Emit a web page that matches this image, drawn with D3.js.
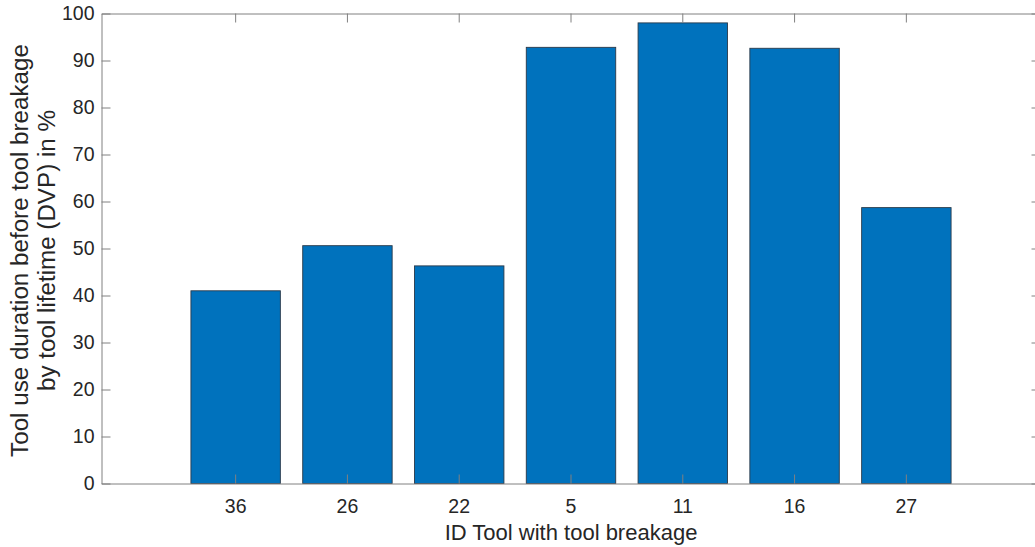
<!DOCTYPE html>
<html>
<head>
<meta charset="utf-8">
<script src="https://cdn.jsdelivr.net/npm/d3@7"></script>
<style>
  html, body { margin: 0; padding: 0; background: #fff; }
  svg { display: block; font-family: "Liberation Sans", Arial, sans-serif; }
</style>
</head>
<body>
<svg id="chart" width="1035" height="547"></svg>
<script>
const categories = ["36", "26", "22", "5", "11", "16", "27"];
const values = [41.0, 50.6, 46.3, 92.8, 98.0, 92.6, 58.7];
const yTicks = [0, 10, 20, 30, 40, 50, 60, 70, 80, 90, 100];
const xLabel = "ID Tool with tool breakage";
const yLabelLines = ["Tool use duration before tool breakage", "by tool lifetime (DVP) in %"];

(function () {
const svg = d3.select("#chart");
const pLeft = 101.5, pTop = 13.5, pRight = 1040.5, pBottom = 483.5;
const axisColor = "#808080";
const tickLen = 9;

const x = d3.scaleBand().domain(categories).range([pLeft, pRight]).paddingInner(0.2).paddingOuter(0.8);
const y = d3.scaleLinear().domain([0, 100]).range([pBottom, pTop]);

// bars
svg.append("g").selectAll("rect").data(values).join("rect")
  .attr("x", (d, i) => x(categories[i]))
  .attr("y", d => y(d))
  .attr("width", x.bandwidth())
  .attr("height", d => y(0) - y(d))
  .attr("fill", "#0072BD")
  .attr("stroke", "#2a3a4a")
  .attr("stroke-width", 0.9);

// axes
const tickFont = 19.5;
const labelFont = 22;
const yLabelFont = 24.2;
const gx = svg.append("g").attr("transform", `translate(0,${pBottom})`)
  .call(d3.axisBottom(x).tickSizeInner(-tickLen).tickSizeOuter(0).tickPadding(16));
const gxTop = svg.append("g").attr("transform", `translate(0,${pTop})`)
  .call(d3.axisTop(x).tickSizeInner(-tickLen).tickSizeOuter(0).tickFormat(""));
const gy = svg.append("g").attr("transform", `translate(${pLeft},0)`)
  .call(d3.axisLeft(y).tickValues(yTicks).tickSizeInner(-tickLen).tickSizeOuter(0).tickPadding(7));
const gyR = svg.append("g").attr("transform", `translate(${pRight},0)`)
  .call(d3.axisRight(y).tickValues(yTicks).tickSizeInner(-tickLen).tickSizeOuter(0).tickFormat(""));

[gx, gxTop, gy, gyR].forEach(g => {
  g.select(".domain").attr("stroke", axisColor).attr("stroke-width", 1);
  g.selectAll(".tick line").attr("stroke", axisColor).attr("stroke-width", 1);
  g.selectAll(".tick text").attr("fill", "#262626").attr("font-size", tickFont)
    .attr("font-family", "'Liberation Sans', Arial, sans-serif");
});

// axis labels
svg.append("text")
  .attr("x", 571)
  .attr("y", 540)
  .attr("text-anchor", "middle")
  .attr("font-size", labelFont)
  .attr("fill", "#262626")
  .text(xLabel);

const yl = svg.append("text")
  .attr("transform", `translate(27.5,${(pTop + pBottom) / 2 + 2}) rotate(-90)`)
  .attr("text-anchor", "middle")
  .attr("font-size", yLabelFont)
  .attr("fill", "#262626");
yl.selectAll("tspan").data(yLabelLines).join("tspan")
  .attr("x", 0)
  .attr("dy", (d, i) => i === 0 ? 0 : 27)
  .text(d => d);
})();
</script>
</body>
</html>
